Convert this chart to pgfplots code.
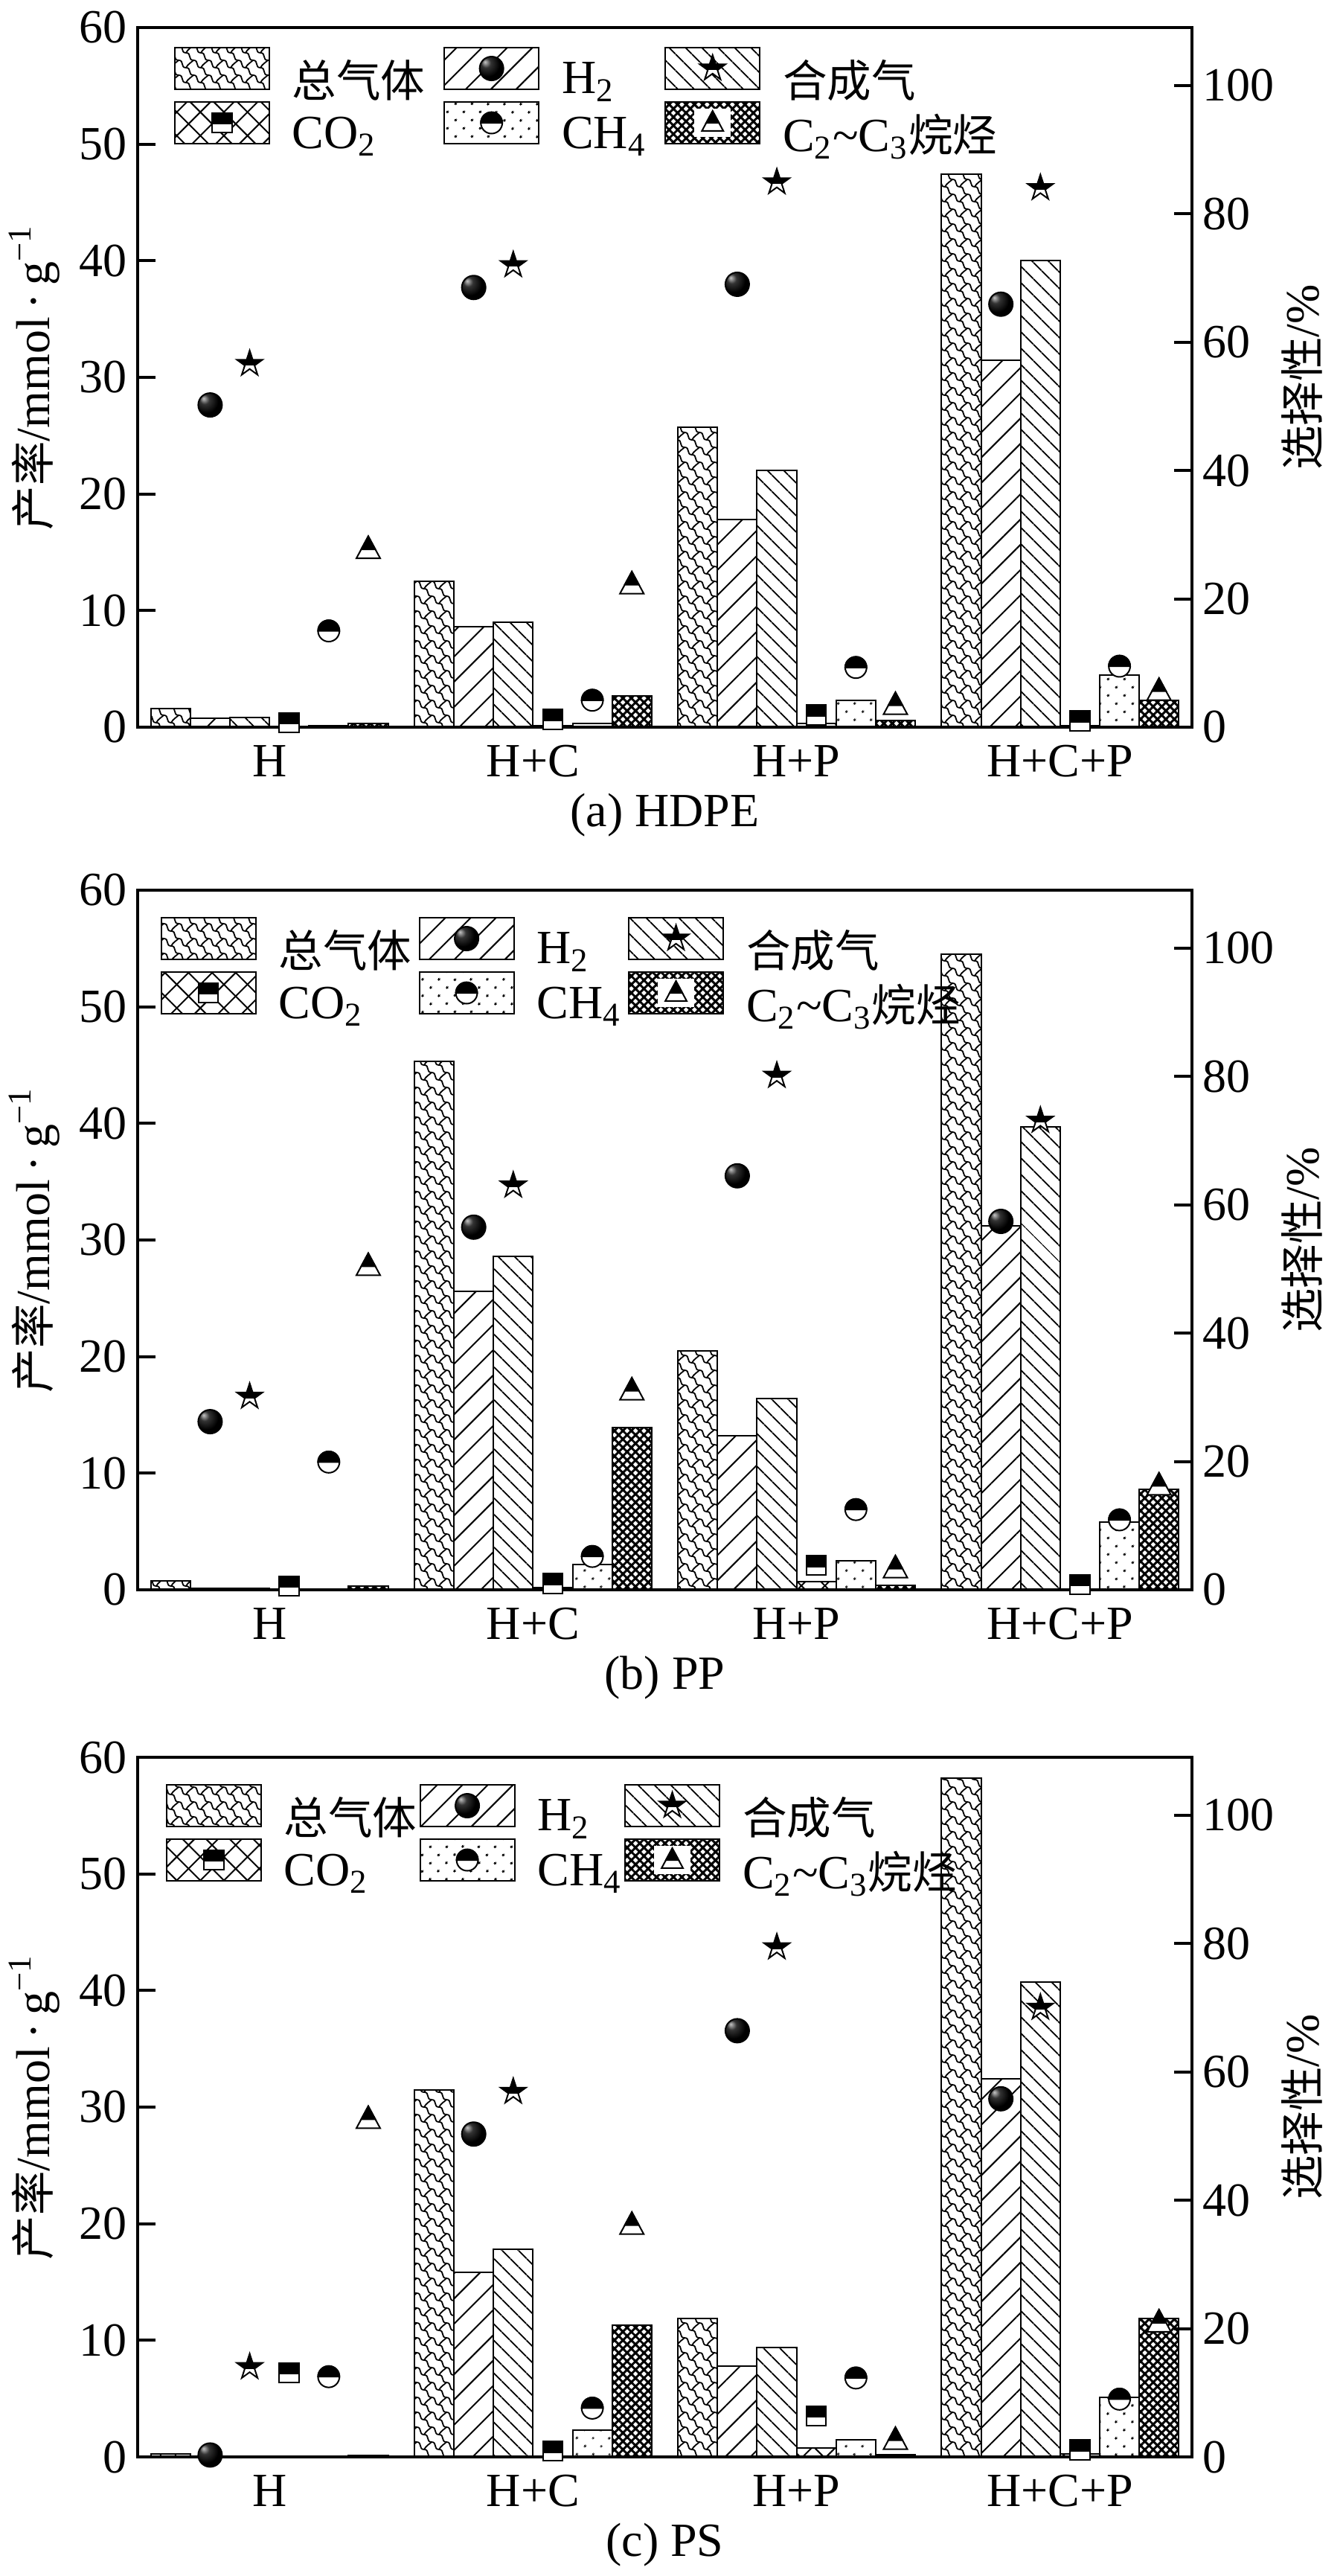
\documentclass[border=0pt]{standalone}
\usepackage{fontspec}
\setmainfont{Liberation Serif}
\newfontfamily\cjk[Scale=0.93]{Noto Sans CJK SC}
\usepackage{pgfplots}
\pgfplotsset{compat=1.18}
\usepackage{pgfplotstable}
\usetikzlibrary{patterns,patterns.meta}

% ---------- custom pattern for total gas ----------
\pgfdeclarepatternformonly{scales}{\pgfqpoint{-0.5pt}{-0.5pt}}{\pgfqpoint{5.5pt}{5.5pt}}{\pgfqpoint{5pt}{5pt}}{%
  \pgfsetlinewidth{0.45pt}%
  \pgfpathmoveto{\pgfqpoint{0pt}{5pt}}%
  \pgfpathcurveto{\pgfqpoint{2pt}{5pt}}{\pgfqpoint{0.5pt}{2.5pt}}{\pgfqpoint{2.5pt}{2.5pt}}%
  \pgfpathcurveto{\pgfqpoint{4.5pt}{2.5pt}}{\pgfqpoint{3pt}{0pt}}{\pgfqpoint{5pt}{0pt}}%
  \pgfpathmoveto{\pgfqpoint{2.5pt}{2.5pt}}%
  \pgfpathcurveto{\pgfqpoint{3.2pt}{3.8pt}}{\pgfqpoint{4.2pt}{4.2pt}}{\pgfqpoint{5pt}{5pt}}%
  \pgfusepath{stroke}%
}

% ---------- custom marks ----------
\pgfdeclareradialshading{myballshade}{\pgfpoint{-14bp}{14bp}}{color(0bp)=(gray!45); color(10bp)=(black!80); color(25bp)=(black); color(60bp)=(black)}
\pgfdeclareplotmark{myball}{%
  \pgfpathcircle{\pgfpointorigin}{\pgfplotmarksize}%
  \pgfshadepath{myballshade}{0}%
  \pgfusepath{}%
  \pgfpathcircle{\pgfpointorigin}{\pgfplotmarksize}%
  \pgfusepath{stroke}%
}
\pgfdeclareplotmark{hsquare}{%
  \pgfpathrectangle{\pgfqpoint{-\pgfplotmarksize}{-\pgfplotmarksize}}{\pgfqpoint{2\pgfplotmarksize}{2\pgfplotmarksize}}%
  \pgfsetfillcolor{white}\pgfusepath{fill,stroke}%
  \pgfpathrectangle{\pgfqpoint{-\pgfplotmarksize}{-0.1\pgfplotmarksize}}{\pgfqpoint{2\pgfplotmarksize}{1.1\pgfplotmarksize}}%
  \pgfsetfillcolor{black}\pgfusepath{fill,stroke}%
}
\pgfdeclareplotmark{hcircle}{%
  \pgfpathcircle{\pgfpointorigin}{\pgfplotmarksize}%
  \pgfsetfillcolor{white}\pgfusepath{fill,stroke}%
  \pgfpathmoveto{\pgfqpoint{\pgfplotmarksize}{0pt}}%
  \pgfpatharc{0}{180}{\pgfplotmarksize}%
  \pgfpathclose
  \pgfsetfillcolor{black}\pgfusepath{fill,stroke}%
}
\pgfdeclareplotmark{htriangle}{%
  \pgfpathmoveto{\pgfqpoint{0pt}{1.1\pgfplotmarksize}}%
  \pgfpathlineto{\pgfqpoint{-\pgfplotmarksize}{-0.75\pgfplotmarksize}}%
  \pgfpathlineto{\pgfqpoint{\pgfplotmarksize}{-0.75\pgfplotmarksize}}%
  \pgfpathclose
  \pgfsetfillcolor{white}\pgfusepath{fill,stroke}%
  \pgfpathmoveto{\pgfqpoint{0pt}{1.1\pgfplotmarksize}}%
  \pgfpathlineto{\pgfqpoint{-0.595\pgfplotmarksize}{0pt}}%
  \pgfpathlineto{\pgfqpoint{0.595\pgfplotmarksize}{0pt}}%
  \pgfpathclose
  \pgfsetfillcolor{black}\pgfusepath{fill,stroke}%
}
\newcommand\hstarpath{%
  \pgfpathmoveto{\pgfqpoint{0pt}{\pgfplotmarksize}}%
  \pgfpathlineto{\pgfqpoint{-0.2245\pgfplotmarksize}{0.309\pgfplotmarksize}}%
  \pgfpathlineto{\pgfqpoint{-0.951\pgfplotmarksize}{0.309\pgfplotmarksize}}%
  \pgfpathlineto{\pgfqpoint{-0.363\pgfplotmarksize}{-0.118\pgfplotmarksize}}%
  \pgfpathlineto{\pgfqpoint{-0.588\pgfplotmarksize}{-0.809\pgfplotmarksize}}%
  \pgfpathlineto{\pgfqpoint{0pt}{-0.382\pgfplotmarksize}}%
  \pgfpathlineto{\pgfqpoint{0.588\pgfplotmarksize}{-0.809\pgfplotmarksize}}%
  \pgfpathlineto{\pgfqpoint{0.363\pgfplotmarksize}{-0.118\pgfplotmarksize}}%
  \pgfpathlineto{\pgfqpoint{0.951\pgfplotmarksize}{0.309\pgfplotmarksize}}%
  \pgfpathlineto{\pgfqpoint{0.2245\pgfplotmarksize}{0.309\pgfplotmarksize}}%
  \pgfpathclose}
\pgfdeclareplotmark{hstar}{%
  \hstarpath\pgfsetfillcolor{white}\pgfusepath{fill}%
  \pgfscope
    \pgfpathrectangle{\pgfqpoint{-2\pgfplotmarksize}{-0.1\pgfplotmarksize}}{\pgfqpoint{4\pgfplotmarksize}{3\pgfplotmarksize}}%
    \pgfusepath{clip}%
    \hstarpath\pgfsetfillcolor{black}\pgfusepath{fill}%
  \endpgfscope
  \hstarpath\pgfusepath{stroke}%
}

% ---------- data: yields (mmol/g), left axis ----------
\pgfplotstableread{
g tot  h2   syn  co2  ch4  c2
0 1.6  0.75 0.85 0.05 0.10 0.35
1 12.5 8.6  9.0  0.10 0.30 2.7
2 25.7 17.8 22.0 0.30 2.3  0.6
3 47.4 31.5 40.0 0.10 4.5  2.3
}\barsA
\pgfplotstableread{
g tot  h2   syn  co2  ch4  c2
0 0.75 0.10 0.10 0.05 0.05 0.35
1 45.3 25.6 28.6 0.20 2.2  13.9
2 20.5 13.2 16.4 0.70 2.5  0.4
3 54.5 31.2 39.7 0.05 5.8  8.6
}\barsB
\pgfplotstableread{
g tot  h2   syn  co2  ch4  c2
0 0.25 0.0  0.0  0.0  0.0  0.10
1 31.5 15.8 17.8 0.05 2.3  11.3
2 11.9 7.8  9.4  0.75 1.45 0.2
3 58.2 32.4 40.7 0.25 5.1  11.9
}\barsC

\newcommand\legrect[1]{\draw[line width=0.5pt,#1] (0pt,-3pt) rectangle (31.75pt,11pt);}
% legend marker exactly at the centre of the legend rectangle
\newcommand\legmark[2]{\begin{scope}[shift={(15.875pt,4pt)}, line width=0.5pt, black]\pgfsetplotmarksize{#2}\pgfuseplotmark{#1}\end{scope}}
\pgfplotsset{
  every axis/.append style={font=\fontsize{16}{19}\selectfont},
  commonax/.style={scale only axis, width=354.25pt, height=235pt,
    xmin=-0.5, xmax=3.5, tick align=inside, major tick length=6pt,
    /pgf/number format/assume math mode=true,
    every tick/.style={line width=1pt, black}},
  leftax/.style={commonax, ymin=0, ymax=60, ytick={0,10,...,60},
    ytick pos=left, xtick={0,1,2,3}, xticklabels={H,H+C,H+P,H+C+P},
    xtick style={draw=none},
    axis line style={line width=1pt},
    xticklabel style={anchor=base, yshift=-16.5pt},
    xlabel style={at={(axis description cs:0.5,0)}, anchor=center, yshift=-29.5pt},
    ylabel={{\cjk 产率}/mmol\,·\,g\textsuperscript{−1}},
    ylabel style={at={(axis description cs:-0.098,0.5)}, anchor=center},
    legend columns=3,
    legend style={at={(axis description cs:0,1)}, anchor=north west, yshift=-3pt,
      draw=none, fill=none, inner sep=0pt, row sep=-2pt,
      /tikz/every odd column/.append style={column sep=5.5pt}},
    legend cell align=left},
  legA/.style={legend style={xshift=12pt, yshift=2.5pt, /tikz/every even column/.append style={column sep=4.2pt}}},
  legB/.style={legend style={xshift=7.5pt, /tikz/every even column/.append style={column sep=0.3pt}}},
  legC/.style={legend style={xshift=9.25pt, /tikz/every even column/.append style={column sep=-1.2pt}}},
  rightax/.style={commonax, ymin=0, ymax=109, ytick={0,20,...,100},
    axis x line=none, axis y line*=right, clip=false,
    y axis line style={line width=1pt},
    ylabel={{\cjk 选择性}/\%},
    ylabel style={at={(axis description cs:1.1044,0.5)}, anchor=center}},
  bartot/.style={ybar, bar width=0.15, bar shift=-0.375, draw=black, line width=0.5pt,
    pattern=scales, pattern color=black,
    legend image code/.code={\legrect{pattern=scales, pattern color=black}}},
  barh2/.style={ybar, bar width=0.15, bar shift=-0.225, draw=black, line width=0.5pt,
    pattern={Lines[angle=45, distance=6pt, line width=0.5pt]}, pattern color=black,
    legend image code/.code={\legrect{pattern={Lines[angle=45, distance=6pt, line width=0.5pt]}, pattern color=black}
      \legmark{myball}{4pt}}},
  barsyn/.style={ybar, bar width=0.15, bar shift=-0.075, draw=black, line width=0.5pt,
    pattern={Lines[angle=-45, distance=4pt, line width=0.5pt]}, pattern color=black,
    legend image code/.code={\legrect{pattern={Lines[angle=-45, distance=4pt, line width=0.5pt]}, pattern color=black}
      \legmark{hstar}{4.5pt}}},
  barco2/.style={ybar, bar width=0.15, bar shift=0.075, draw=black, line width=0.5pt,
    pattern={Hatch[angle=45, distance=5.6pt, line width=0.5pt]}, pattern color=black,
    legend image code/.code={\legrect{pattern={Hatch[angle=45, distance=5.6pt, line width=0.5pt]}, pattern color=black}
      \legmark{hsquare}{3.3pt}}},
  barch4/.style={ybar, bar width=0.15, bar shift=0.225, draw=black, line width=0.5pt,
    pattern={Dots[angle=45, distance=4pt, radius=0.45pt]}, pattern color=black,
    legend image code/.code={\legrect{pattern={Dots[angle=45, distance=4pt, radius=0.45pt]}, pattern color=black}
      \legmark{hcircle}{3.6pt}}},
  barc2/.style={ybar, bar width=0.15, bar shift=0.375, draw=black, line width=0.5pt,
    pattern={Hatch[angle=45, distance=2pt, line width=0.75pt]}, pattern color=black,
    legend image code/.code={\legrect{pattern={Hatch[angle=45, distance=2pt, line width=0.75pt]}, pattern color=black}
      \fill[white] (10pt,-0.5pt) rectangle (21.75pt,8.5pt);
      \legmark{htriangle}{3.6pt}}},
  mkh2/.style={black, only marks, mark=myball, mark size=4pt, line width=0.5pt},
  mksyn/.style={black, only marks, mark=hstar, mark size=4.5pt, line width=0.5pt},
  mkco2/.style={black, only marks, mark=hsquare, mark size=3.3pt, line width=0.5pt},
  mkch4/.style={black, only marks, mark=hcircle, mark size=3.6pt, line width=0.5pt},
  mkc2/.style={black, only marks, mark=htriangle, mark size=4pt, line width=0.5pt},
}

\begin{document}
\begin{tikzpicture}
% ================= (a) HDPE =================
\begin{axis}[leftax, legA, at={(0pt,0pt)}, anchor=south west, xlabel={(a) HDPE}]
\addplot[bartot] table[x=g,y=tot]{\barsA}; \addlegendentry{\cjk 总气体}
\addplot[barh2]  table[x=g,y=h2]{\barsA};  \addlegendentry{H\textsubscript{2}}
\addplot[barsyn] table[x=g,y=syn]{\barsA}; \addlegendentry{\cjk 合成气}
\addplot[barco2] table[x=g,y=co2]{\barsA}; \addlegendentry{CO\textsubscript{2}}
\addplot[barch4] table[x=g,y=ch4]{\barsA}; \addlegendentry{CH\textsubscript{4}}
\addplot[barc2]  table[x=g,y=c2]{\barsA};  \addlegendentry{C\textsubscript{2}\textasciitilde C\textsubscript{3}{\cjk 烷烃}}
\end{axis}
\begin{axis}[rightax, at={(0pt,0pt)}, anchor=south west]
\addplot[mkh2]  coordinates {(-0.225,50.2) (0.775,68.5) (1.775,69.0) (2.775,65.9)};
\addplot[mksyn] coordinates {(-0.075,56.6) (0.925,72.0) (1.925,84.9) (2.925,84.0)};
\addplot[mkco2] coordinates {(0.075,0.7) (1.075,1.2) (2.075,1.9) (3.075,1.0)};
\addplot[mkch4] coordinates {(0.225,15.0) (1.225,4.2) (2.225,9.3) (3.225,9.5)};
\addplot[mkc2]  coordinates {(0.375,27.7) (1.375,22.2) (2.375,3.4) (3.375,5.6)};
\end{axis}
% ================= (b) PP =================
\begin{axis}[leftax, legB, at={(0pt,-289.75pt)}, anchor=south west, xlabel={(b) PP}]
\addplot[bartot] table[x=g,y=tot]{\barsB}; \addlegendentry{\cjk 总气体}
\addplot[barh2]  table[x=g,y=h2]{\barsB};  \addlegendentry{H\textsubscript{2}}
\addplot[barsyn] table[x=g,y=syn]{\barsB}; \addlegendentry{\cjk 合成气}
\addplot[barco2] table[x=g,y=co2]{\barsB}; \addlegendentry{CO\textsubscript{2}}
\addplot[barch4] table[x=g,y=ch4]{\barsB}; \addlegendentry{CH\textsubscript{4}}
\addplot[barc2]  table[x=g,y=c2]{\barsB};  \addlegendentry{C\textsubscript{2}\textasciitilde C\textsubscript{3}{\cjk 烷烃}}
\end{axis}
\begin{axis}[rightax, at={(0pt,-289.75pt)}, anchor=south west]
\addplot[mkh2]  coordinates {(-0.225,26.2) (0.775,56.5) (1.775,64.5) (2.775,57.4)};
\addplot[mksyn] coordinates {(-0.075,30.1) (0.925,63.0) (1.925,80.1) (2.925,73.1)};
\addplot[mkco2] coordinates {(0.075,0.6) (1.075,1.0) (2.075,3.8) (3.075,0.8)};
\addplot[mkch4] coordinates {(0.225,19.9) (1.225,5.2) (2.225,12.5) (3.225,10.9)};
\addplot[mkc2]  coordinates {(0.375,50.4) (1.375,31.0) (2.375,3.3) (3.375,16.2)};
\end{axis}
% ================= (c) PS =================
\begin{axis}[leftax, legC, at={(0pt,-581pt)}, anchor=south west, xlabel={(c) PS}]
\addplot[bartot] table[x=g,y=tot]{\barsC}; \addlegendentry{\cjk 总气体}
\addplot[barh2]  table[x=g,y=h2]{\barsC};  \addlegendentry{H\textsubscript{2}}
\addplot[barsyn] table[x=g,y=syn]{\barsC}; \addlegendentry{\cjk 合成气}
\addplot[barco2] table[x=g,y=co2]{\barsC}; \addlegendentry{CO\textsubscript{2}}
\addplot[barch4] table[x=g,y=ch4]{\barsC}; \addlegendentry{CH\textsubscript{4}}
\addplot[barc2]  table[x=g,y=c2]{\barsC};  \addlegendentry{C\textsubscript{2}\textasciitilde C\textsubscript{3}{\cjk 烷烃}}
\end{axis}
\begin{axis}[rightax, at={(0pt,-581pt)}, anchor=south west]
\addplot[mkh2]  coordinates {(-0.225,0.3) (0.775,50.3) (1.775,66.4) (2.775,55.8)};
\addplot[mksyn] coordinates {(-0.075,14.0) (0.925,56.9) (1.925,79.4) (2.925,70.0)};
\addplot[mkco2] coordinates {(0.075,13.1) (1.075,0.9) (2.075,6.4) (3.075,1.1)};
\addplot[mkch4] coordinates {(0.225,12.5) (1.225,7.6) (2.225,12.3) (3.225,9.0)};
\addplot[mkc2]  coordinates {(0.375,52.6) (1.375,36.1) (2.375,2.6) (3.375,20.9)};
\end{axis}
\pgfresetboundingbox
\path (-46.25pt,-621pt) rectangle (404.75pt,244.25pt);
\end{tikzpicture}
\end{document}
